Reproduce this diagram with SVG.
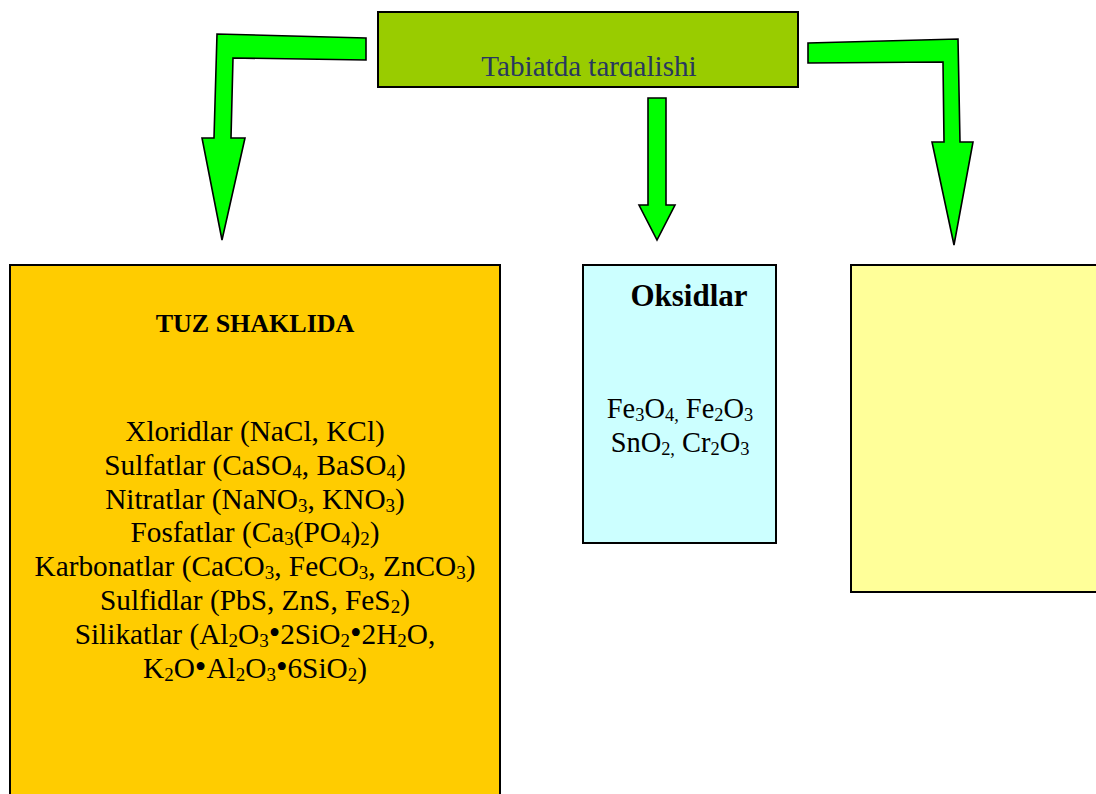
<svg xmlns="http://www.w3.org/2000/svg" width="1096" height="794" viewBox="0 0 1096 794">
<style>
.box{stroke:#000;stroke-width:2}
.arrow{fill:#00FF00;stroke:#000;stroke-width:1.6;stroke-linejoin:miter}
.t{font-family:"Liberation Serif","Times New Roman",serif;font-size:29.3px;fill:#000;text-anchor:middle}
.b{font-weight:bold}
.s{font-size:19px}
.d{font-size:33px}
.o{font-size:28.4px}
.o .s{font-size:18.4px}
</style>
<defs>
<clipPath id="topclip"><rect x="378" y="12" width="420" height="65"/></clipPath>
</defs>
<rect width="1096" height="794" fill="#fff"/>
<g id="connectors">
<polygon class="arrow" points="366,38 217,34 214,138 202,138 222,240 245,138 231,138 233,58 366,60"/>
<polygon class="arrow" points="648,98 666,98 666,205 675,205 657,240 639,205 648,205"/>
<polygon class="arrow" points="808,43 958,39 960,142 973,142 954,245 932,142 944,142 943,62 808,63"/>
</g>
<g id="top">
<rect class="box" x="378" y="12" width="420" height="75" fill="#99CC00"/>
<text class="t" x="589" y="76" style="fill:#283760;font-size:29.1px" clip-path="url(#topclip)">Tabiatda tarqalishi</text>
</g>
<g id="tuz">
<rect class="box" x="10" y="265" width="490" height="540" fill="#FFCC00"/>
<text class="t b" x="255" y="332" style="font-size:26px">TUZ SHAKLIDA</text>
<text class="t" x="255" y="441">Xloridlar (NaCl, KCl)</text>
<text class="t" x="255" y="475">Sulfatlar (CaSO<tspan class="s" dy="3">4</tspan><tspan dy="-3">, BaSO</tspan><tspan class="s" dy="3">4</tspan><tspan dy="-3">)</tspan></text>
<text class="t" x="255" y="508.6">Nitratlar (NaNO<tspan class="s" dy="3">3</tspan><tspan dy="-3">, KNO</tspan><tspan class="s" dy="3">3</tspan><tspan dy="-3">)</tspan></text>
<text class="t" x="255" y="542.4">Fosfatlar (Ca<tspan class="s" dy="3">3</tspan><tspan dy="-3">(PO</tspan><tspan class="s" dy="3">4</tspan><tspan dy="-3">)</tspan><tspan class="s" dy="3">2</tspan><tspan dy="-3">)</tspan></text>
<text class="t" x="255" y="576.2">Karbonatlar (CaCO<tspan class="s" dy="3">3</tspan><tspan dy="-3">, FeCO</tspan><tspan class="s" dy="3">3</tspan><tspan dy="-3">, ZnCO</tspan><tspan class="s" dy="3">3</tspan><tspan dy="-3">)</tspan></text>
<text class="t" x="255" y="610">Sulfidlar (PbS, ZnS, FeS<tspan class="s" dy="3">2</tspan><tspan dy="-3">)</tspan></text>
<text class="t" x="255" y="643.8">Silikatlar (Al<tspan class="s" dy="3">2</tspan><tspan dy="-3">O</tspan><tspan class="s" dy="3">3</tspan><tspan class="d" dy="-3">•</tspan><tspan>2SiO</tspan><tspan class="s" dy="3">2</tspan><tspan class="d" dy="-3">•</tspan><tspan>2H</tspan><tspan class="s" dy="3">2</tspan><tspan dy="-3">O,</tspan></text>
<text class="t" x="255" y="677.6">K<tspan class="s" dy="3">2</tspan><tspan dy="-3">O</tspan><tspan class="d">•</tspan><tspan>Al</tspan><tspan class="s" dy="3">2</tspan><tspan dy="-3">O</tspan><tspan class="s" dy="3">3</tspan><tspan class="d" dy="-3">•</tspan><tspan>6SiO</tspan><tspan class="s" dy="3">2</tspan><tspan dy="-3">)</tspan></text>
</g>
<g id="oksidlar">
<rect class="box" x="583" y="265" width="193" height="278" fill="#CCFFFF"/>
<text class="t b" x="689" y="306" style="font-size:31px">Oksidlar</text>
<text class="t o" x="680" y="418">Fe<tspan class="s" dy="3">3</tspan><tspan dy="-3">O</tspan><tspan class="s" dy="3">4,</tspan><tspan dy="-3"> Fe</tspan><tspan class="s" dy="3">2</tspan><tspan dy="-3">O</tspan><tspan class="s" dy="3">3</tspan></text>
<text class="t o" x="680" y="452">SnO<tspan class="s" dy="3">2,</tspan><tspan dy="-3"> Cr</tspan><tspan class="s" dy="3">2</tspan><tspan dy="-3">O</tspan><tspan class="s" dy="3">3</tspan></text>
</g>
<g id="empty">
<rect class="box" x="851" y="265" width="260" height="327" fill="#FFFF99"/>
</g>
</svg>
